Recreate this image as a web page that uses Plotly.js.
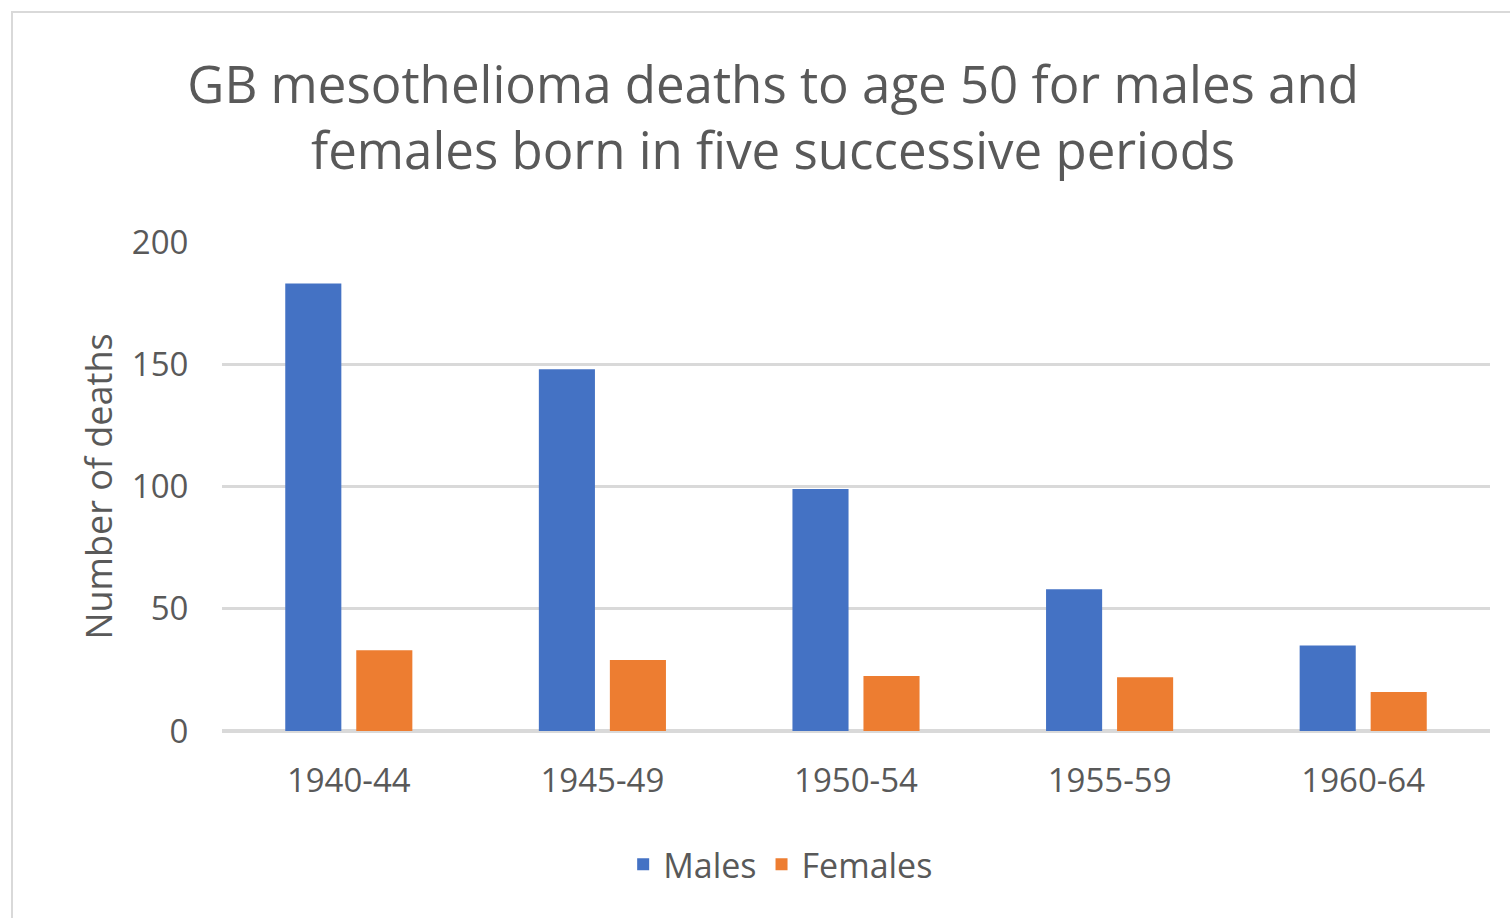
<!DOCTYPE html>
<html>
<head>
<meta charset="utf-8">
<script src="https://cdn.plot.ly/plotly-3.0.1.min.js"></script>
<style>
  html, body { margin: 0; padding: 0; background: #ffffff; overflow: hidden; }
  #frame { position: absolute; left: 11px; top: 11px; width: 1520px; height: 940px; border: 2px solid #d9d9d9; box-sizing: border-box; pointer-events: none; }
  #chart { position: absolute; left: 0; top: 0; width: 1510px; height: 918px; }
</style>
</head>
<body>
<div id="chart"></div>
<div id="frame"></div>
<script>
const categories = ["1940-44", "1945-49", "1950-54", "1955-59", "1960-64"];
const males = [183, 148, 99, 58, 35];
const females = [33, 29, 22.5, 22, 16];
const yTicks = [0, 50, 100, 150, 200];

const FONT = "'Open Sans', 'Noto Sans', sans-serif";
const GREY = "#595959";

const data = [
  { type: "bar", name: "Males", x: categories, y: males,
    marker: { color: "#4472c4" }, hoverinfo: "x+y+name" },
  { type: "bar", name: "Females", x: categories, y: females,
    marker: { color: "#ed7d31" }, hoverinfo: "x+y+name" }
];

const layout = {
  width: 1510, height: 918,
  paper_bgcolor: "rgba(0,0,0,0)", plot_bgcolor: "#ffffff",
  margin: { l: 222, r: 20, t: 242, b: 187 },
  font: { family: FONT, color: GREY },
  title: {
    text: "GB mesothelioma deaths to age 50 for males and<br>females born in five successive periods",
    font: { family: FONT, size: 51, color: GREY },
    xref: "container", x: 0.512, xanchor: "center",
    yref: "container", y: 0.888, yanchor: "top"
  },
  barmode: "group",
  bargap: 0.44,
  bargroupgap: 0.21,
  xaxis: {
    type: "category",
    showgrid: false, zeroline: false, showline: false,
    ticks: "outside", ticklen: 20, tickcolor: "rgba(0,0,0,0)",
    tickfont: { family: FONT, size: 33, color: GREY }
  },
  yaxis: {
    range: [0, 200],
    tickvals: yTicks,
    showgrid: true, gridcolor: "#d9d9d9", gridwidth: 3,
    zeroline: true, zerolinecolor: "#d9d9d9", zerolinewidth: 4,
    showline: false,
    ticks: "outside", ticklen: 26, tickcolor: "rgba(0,0,0,0)",
    tickfont: { family: FONT, size: 33, color: GREY },
    title: { text: "Number of deaths", font: { family: FONT, size: 36, color: GREY }, standoff: 8 }
  },
  legend: {
    orientation: "h", x: 0.517, xref: "container", xanchor: "center",
    y: 0.058, yref: "container", yanchor: "middle",
    font: { family: FONT, size: 34, color: GREY },
    itemwidth: 30, traceorder: "normal"
  },
  showlegend: true
};

Plotly.newPlot("chart", data, layout, { displayModeBar: false, staticPlot: true });
</script>
</body>
</html>
